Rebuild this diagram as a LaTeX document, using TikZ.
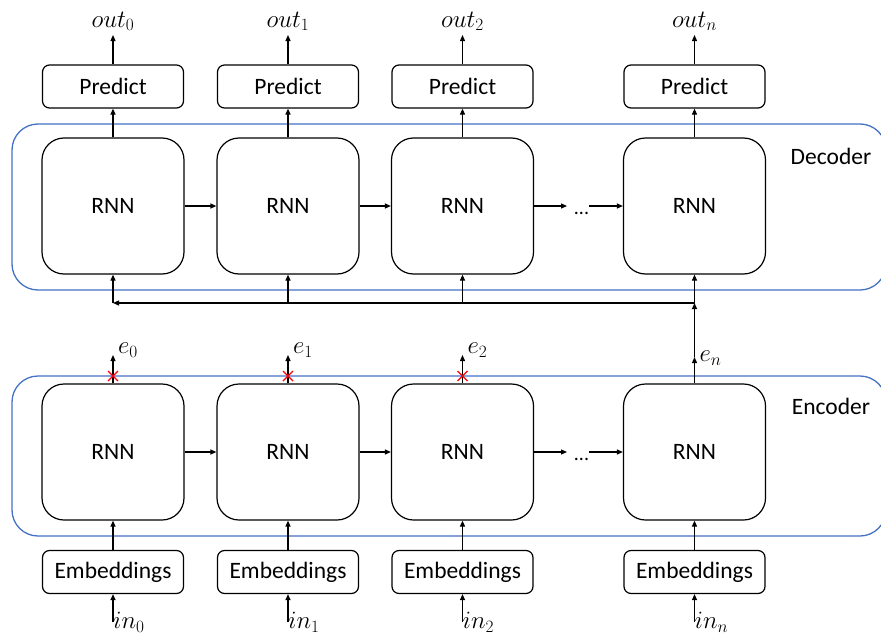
\documentclass[tikz,border=0pt]{standalone}
\usepackage{fontspec}
\setmainfont{Carlito}
\usetikzlibrary{arrows.meta}
\definecolor{contblue}{RGB}{68,114,196}
\begin{document}
\begin{tikzpicture}[x=1pt,y=-1pt,
  >={Triangle[length=6pt,width=5pt]},
  txt/.style={font=\fontsize{23.5}{26}\selectfont},
  rnn/.style={txt,draw,line width=1.2pt,rounded corners=22pt,minimum width=142pt,minimum height=136pt,inner sep=0pt},
  small/.style={txt,draw,line width=1.2pt,rounded corners=7pt,minimum width=141pt,minimum height=43pt,inner sep=0pt},
  cont/.style={draw=contblue,line width=1.3pt,rounded corners=26pt},
  conn/.style={->,line width=1.2pt},
  lab/.style={font=\fontsize{24}{26}\selectfont,inner sep=0pt},
  dots/.style={font=\fontsize{20}{22}\selectfont,inner sep=0pt,anchor=base},
  cross/.style={draw=red,line width=1.4pt}]
\useasboundingbox (0,0) rectangle (881,637);
% containers
\draw[cont] (12,124) rectangle (886,290);
\draw[cont] (12,376) rectangle (886,536);
\node[txt,inner sep=0pt] (declab) at (831,156) {Decoder};
\node[txt,inner sep=0pt] (enclab) at (831,406) {Encoder};
% columns
\foreach \i/\x in {0/113,1/288,2/462.5,3/694.5}{
  \node[rnn] (d\i) at (\x,206) {RNN};
  \node[rnn] (e\i) at (\x,452) {RNN};
  \node[small] (p\i) at (\x,86.5) {Predict};
  \node[small] (m\i) at (\x,572) {Embeddings};
  \coordinate (o\i) at (\x,35);
  \coordinate (in\i) at (\x,622);
  \draw[conn] (p\i.north) -- (o\i);
  \draw[conn] (d\i.north) -- (p\i.south);
  \draw[conn] (m\i.north) -- (e\i.south);
  \draw[conn] (in\i) -- (m\i.south);
}
\node[lab,anchor=south] (ol0) at (113,31) {$out_0$};
\node[lab,anchor=south] (ol1) at (288,31) {$out_1$};
\node[lab,anchor=south] (ol2) at (462.5,31) {$out_2$};
\node[lab,anchor=south] (ol3) at (694.5,31) {$out_n$};
\node[lab,anchor=north west] (il0) at (113,612) {$in_0$};
\node[lab,anchor=north west] (il1) at (288,612) {$in_1$};
\node[lab,anchor=north west] (il2) at (462.5,612) {$in_2$};
\node[lab,anchor=north west] (il3) at (694.5,612) {$in_n$};
% horizontal chain
\foreach \r in {d,e}{
  \draw[conn] (\r0.east) -- (\r1.west);
  \draw[conn] (\r1.east) -- (\r2.west);
}
\node[dots] (dd) at (581.5,214) {...};
\node[dots] (ed) at (581.5,460) {...};
\coordinate (dda) at (567,206);
\coordinate (ddb) at (589,206);
\coordinate (eda) at (567,452);
\coordinate (edb) at (589,452);
\draw[conn] (d2.east) -- (dda);
\draw[conn] (ddb) -- (d3.west);
\draw[conn] (e2.east) -- (eda);
\draw[conn] (edb) -- (e3.west);
% encoder outputs
\foreach \i/\x in {0/113,1/288,2/462.5}{
  \coordinate (et\i) at (\x,355);
  \draw[conn] (e\i.north) -- (et\i);
  \draw[cross] (\x-5,371) -- (\x+5,381) (\x+5,371) -- (\x-5,381);
}
\node[lab,anchor=west] (el0) at (118,350) {$e_0$};
\node[lab,anchor=west] (el1) at (293,350) {$e_1$};
\node[lab,anchor=west] (el2) at (467.5,350) {$e_2$};
\node[lab,anchor=west] (el3) at (699.5,358) {$e_n$};
% e_n feedback
\coordinate (en) at (694.5,357);
\coordinate (jn) at (694.5,303);
\coordinate (j0) at (113,303);
\coordinate (j1) at (288,303);
\coordinate (j2) at (462.5,303);
\draw[conn] (e3.north) -- (en);
\draw[conn] (en) -- (jn);
\draw[conn] (jn) -- (d3.south);
\draw[conn] (jn) -- (j0);
\draw[conn] (j0) -- (d0.south);
\draw[conn] (j1) -- (d1.south);
\draw[conn] (j2) -- (d2.south);
\end{tikzpicture}
\end{document}
